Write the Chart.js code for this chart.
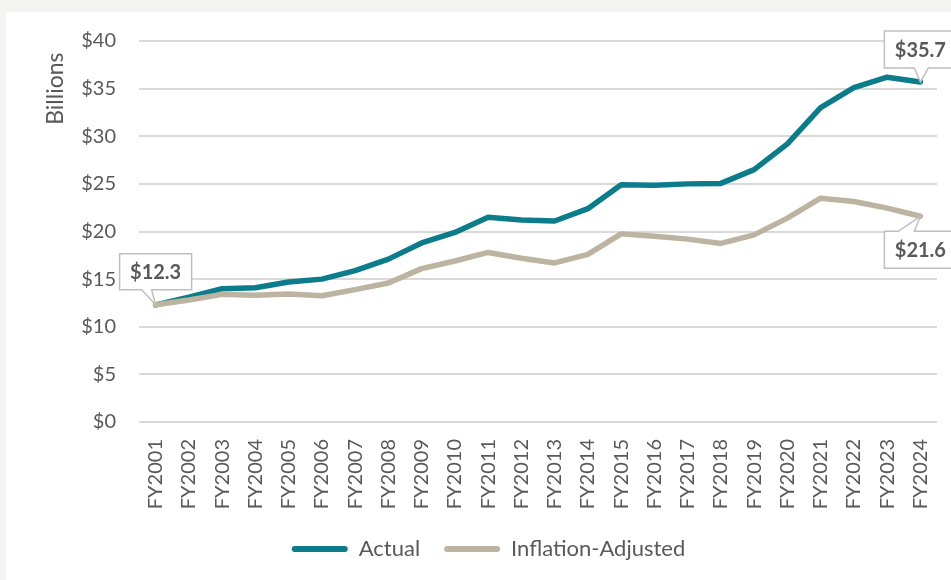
<!DOCTYPE html>
<html>
<head>
<meta charset="utf-8">
<script src="https://cdn.jsdelivr.net/npm/chart.js@4.4.1/dist/chart.umd.min.js"></script>
<style>
  html, body { margin: 0; padding: 0; background: #f4f4f2; }
  #panel { position: absolute; left: 6px; top: 12px; width: 945px; height: 568px; background: #ffffff; }
</style>
</head>
<body>
<div id="panel"><canvas id="chart-1" width="945" height="568"></canvas></div>
<script>
var years = ['FY2001', 'FY2002', 'FY2003', 'FY2004', 'FY2005', 'FY2006', 'FY2007', 'FY2008',
    'FY2009', 'FY2010', 'FY2011', 'FY2012', 'FY2013', 'FY2014', 'FY2015', 'FY2016',
    'FY2017', 'FY2018', 'FY2019', 'FY2020', 'FY2021', 'FY2022', 'FY2023', 'FY2024'];

// billions of dollars
var actual = [12.3, 13.1, 14.0, 14.1, 14.7, 15.0, 15.9, 17.1, 18.8, 19.9, 21.5, 21.2,
    21.1, 22.4, 24.9, 24.85, 25.0, 25.05, 26.5, 29.2, 33.0, 35.1, 36.2, 35.7];
var inflation_adj = [12.3, 12.8, 13.4, 13.3, 13.45, 13.25, 13.9, 14.6, 16.1, 16.9, 17.8, 17.2,
    16.7, 17.6, 19.75, 19.5, 19.2, 18.75, 19.65, 21.4, 23.5, 23.15, 22.45, 21.6];

var series_names = ['Actual', 'Inflation-Adjusted'];
var series_colors = ['#0c7b8a', '#bcb3a1'];

// which points carry a data callout: [series, index]
var labelled_points = [[0, 0], [0, 23], [1, 23]];

var text_color = '#595959';
var font_name = 'Lato, "Open Sans", sans-serif';

// callout boxes with a tail pointing at the value
var callout_style = [
    { box: [-36, 36, -51, -15], tail: [-14, -4], side: 'above' },
    { box: [-36, 40, -51, -14], tail: [-6, 8], side: 'above' },
    { box: [-36, 40, 15, 52], tail: [-22, -6], side: 'below' },
];

const calloutPlugin = {
    id: 'callouts',
    afterDatasetsDraw(chart) {
        const ctx = chart.ctx;
        ctx.save();
        labelled_points.forEach(function(p, i) {
            const pt = chart.getDatasetMeta(p[0]).data[p[1]];
            const v = chart.data.datasets[p[0]].data[p[1]];
            const st = callout_style[i];
            const x = pt.x, y = pt.y;
            const l = x + st.box[0], r = x + st.box[1], t = y + st.box[2], b = y + st.box[3];
            ctx.beginPath();
            if (st.side == 'above') {
                ctx.moveTo(l, t);
                ctx.lineTo(r, t);
                ctx.lineTo(r, b);
                ctx.lineTo(x + st.tail[1], b);
                ctx.lineTo(x, y);
                ctx.lineTo(x + st.tail[0], b);
                ctx.lineTo(l, b);
            } else {
                ctx.moveTo(l, t);
                ctx.lineTo(x + st.tail[0], t);
                ctx.lineTo(x, y);
                ctx.lineTo(x + st.tail[1], t);
                ctx.lineTo(r, t);
                ctx.lineTo(r, b);
                ctx.lineTo(l, b);
            }
            ctx.closePath();
            ctx.fillStyle = '#ffffff';
            ctx.fill();
            ctx.strokeStyle = '#bfbfbf';
            ctx.lineWidth = 1.5;
            ctx.stroke();

            ctx.fillStyle = text_color;
            ctx.font = 'bold 20px ' + font_name;
            ctx.textAlign = 'center';
            ctx.textBaseline = 'middle';
            ctx.fillText('$' + v.toFixed(1), x, (t + b) / 2 + 1);
        });
        ctx.restore();
    }
};

const ctx = document.getElementById('chart-1').getContext('2d');
const myChart = new Chart(ctx, {
    type: 'line',
    data: {
        labels: years,
        datasets: [{
            label: series_names[0],
            data: actual,
            borderColor: series_colors[0],
            backgroundColor: series_colors[0],
            borderWidth: 5.5,
            pointRadius: 0,
            tension: 0,
            borderCapStyle: 'round',
            borderJoinStyle: 'round',
            order: 2,
        }, {
            label: series_names[1],
            data: inflation_adj,
            borderColor: series_colors[1],
            backgroundColor: series_colors[1],
            borderWidth: 5.5,
            pointRadius: 0,
            tension: 0,
            borderCapStyle: 'round',
            borderJoinStyle: 'round',
            order: 1,
        }],
    },
    options: {
        responsive: false,
        animation: false,
        devicePixelRatio: 1,
        layout: {
            padding: { left: 34, right: 14, top: 29, bottom: 10 },
        },
        plugins: {
            legend: {
                position: 'bottom',
                labels: {
                    color: text_color,
                    font: { family: font_name, size: 22 },
                    boxWidth: 56,
                    boxHeight: 6,
                    padding: 24,
                    useBorderRadius: true,
                    borderRadius: 3,
                    sort: function(a, b) { return a.datasetIndex - b.datasetIndex; },
                    generateLabels: function(chart) {
                        const items = Chart.defaults.plugins.legend.labels.generateLabels(chart);
                        items.forEach(function(it) { it.lineWidth = 0; });
                        return items;
                    },
                },
            },
            tooltip: { enabled: false },
        },
        scales: {
            x: {
                offset: true,
                grid: { display: false, drawTicks: true, tickLength: 17, tickColor: 'rgba(0,0,0,0)' },
                border: { display: false },
                ticks: {
                    color: text_color,
                    font: { family: font_name, size: 20 },
                    minRotation: 90,
                    maxRotation: 90,
                    padding: 0,
                    autoSkip: false,
                },
                afterFit: function(scale) { scale.height = 92; },
            },
            y: {
                min: 0,
                max: 40,
                grid: { color: '#d9d9d9', lineWidth: 2, drawTicks: true, tickLength: 23, tickColor: 'rgba(0,0,0,0)' },
                border: { display: false },
                ticks: {
                    stepSize: 5,
                    color: text_color,
                    font: { family: font_name, size: 20 },
                    padding: 0,
                    callback: function(v) { return '$' + v; },
                },
                title: {
                    display: true,
                    text: 'Billions\u2002',
                    align: 'end',
                    color: text_color,
                    font: { family: font_name, size: 23 },
                    padding: { top: 2, bottom: 0 },
                },
                afterFit: function(scale) { scale.width = 99; },
            },
        },
    },
    plugins: [calloutPlugin],
});
</script>
</body>
</html>
